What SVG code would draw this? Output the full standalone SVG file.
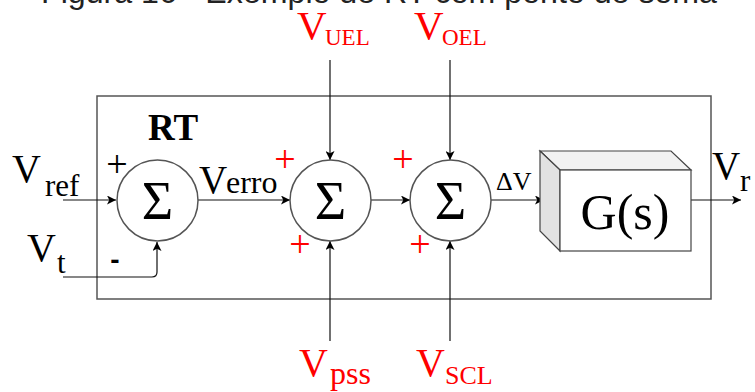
<svg xmlns="http://www.w3.org/2000/svg" width="755" height="392" viewBox="0 0 755 392">
<defs>
<style>
.serif{font-family:"Liberation Serif","Times New Roman",serif;}
.red{fill:#ff0000;}
.blk{fill:#000;}
.conn{stroke:#111;stroke-width:1.2;fill:none;}
.sum{fill:#fff;stroke:#555;stroke-width:1.5;}
.sig{font-family:"Liberation Serif","Times New Roman",serif;font-size:54px;text-anchor:middle;}
.plus{font-family:"Liberation Serif","Times New Roman",serif;font-size:38px;text-anchor:middle;}
</style>
<marker id="arr" viewBox="0 0 10 10" refX="10" refY="5" markerWidth="9" markerHeight="9" markerUnits="userSpaceOnUse" orient="auto">
<path d="M0,0 L10,5 L0,10 L2.5,5 Z" fill="#000"/>
</marker>
</defs>
<rect width="755" height="392" fill="#fff"/>
<text id="title" x="41" y="3" font-family="'Liberation Sans',Arial,sans-serif" font-size="31" fill="#222" textLength="676" lengthAdjust="spacingAndGlyphs">Figura 16 - Exemplo de RT com ponto de soma</text>

<g id="rt-box">
<rect x="97" y="96" width="614" height="203" fill="none" stroke="#555" stroke-width="1.5"/>
<text x="148" y="140" class="serif" font-size="37" font-weight="bold">RT</text>
</g>

<g id="connectors">
<line class="conn" x1="63" y1="200" x2="116" y2="200" marker-end="url(#arr)"/>
<path class="conn" d="M63,277 L152,277 Q157,277 157,272 L157,242" marker-end="url(#arr)"/>
<line class="conn" x1="198" y1="200" x2="290" y2="200" marker-end="url(#arr)"/>
<line class="conn" x1="330" y1="60" x2="330" y2="160" marker-end="url(#arr)"/>
<line class="conn" x1="330" y1="341" x2="330" y2="241" marker-end="url(#arr)"/>
<line class="conn" x1="371" y1="200" x2="410" y2="200" marker-end="url(#arr)"/>
<line class="conn" x1="450" y1="60" x2="450" y2="160" marker-end="url(#arr)"/>
<line class="conn" x1="450" y1="341" x2="450" y2="241" marker-end="url(#arr)"/>
<line class="conn" x1="491" y1="200" x2="544" y2="200" marker-end="url(#arr)"/>
<line class="conn" x1="691" y1="200" x2="741" y2="200" marker-end="url(#arr)"/>
</g>

<g id="sum1">
<circle class="sum" cx="157.5" cy="200.5" r="40.5"/>
<text class="sig" x="157.5" y="219">Σ</text>
</g>
<g id="sum2">
<circle class="sum" cx="330.5" cy="200.5" r="40.5"/>
<text class="sig" x="330.5" y="219">Σ</text>
</g>
<g id="sum3">
<circle class="sum" cx="450.5" cy="200.5" r="40.5"/>
<text class="sig" x="450.5" y="219">Σ</text>
</g>

<g id="block-gs">
<polygon points="540,151 671,151 691,170 560,170" fill="#f2f2f2" stroke="#444" stroke-width="1.2"/>
<polygon points="540,151 560,170 560,251 540,231" fill="#e2e2e2" stroke="#444" stroke-width="1.2"/>
<rect x="560" y="170" width="131" height="81" fill="#fff" stroke="#444" stroke-width="1.2"/>
<text x="625" y="229" class="serif" font-size="50" text-anchor="middle">G(s)</text>
</g>

<g id="signs">
<text class="plus blk" x="117" y="177">+</text>
<text x="115" y="269" font-family="'Liberation Sans',Arial,sans-serif" font-size="28" font-weight="bold" text-anchor="middle">-</text>
<text class="plus red" x="285" y="172">+</text>
<text class="plus red" x="300" y="257">+</text>
<text class="plus red" x="403" y="172">+</text>
<text class="plus red" x="420" y="257">+</text>
</g>

<g id="labels" class="serif">
<text x="12" y="182" font-size="40">V</text>
<text x="45" y="196" font-size="31">ref</text>
<text x="27" y="261" font-size="40">V</text>
<text x="57" y="273" font-size="31">t</text>
<text x="199" y="193" font-size="39">V</text>
<text x="226" y="193" font-size="32">erro</text>
<text x="496" y="190" font-size="26">ΔV</text>
<text x="712" y="179" font-size="39">V</text>
<text x="740" y="191" font-size="31">r</text>
<g class="red">
<text x="297" y="39" font-size="41">V</text>
<text x="325" y="45" font-size="23">UEL</text>
<text x="414" y="39" font-size="41">V</text>
<text x="442" y="45" font-size="23">OEL</text>
<text x="299" y="376" font-size="40">V</text>
<text x="330" y="384" font-size="32">pss</text>
<text x="416" y="376" font-size="40">V</text>
<text x="445" y="384" font-size="26">SCL</text>
</g>
</g>
</svg>
